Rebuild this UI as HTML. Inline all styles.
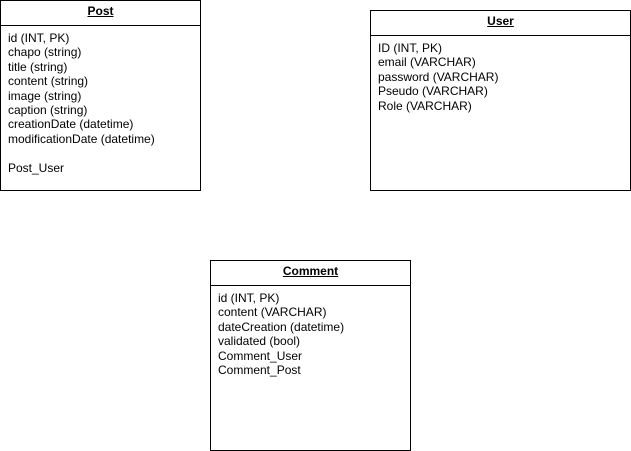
<!DOCTYPE html>
<html><head><style>
body{margin:0;width:631px;height:451px;background:#fff;position:relative;font-family:"Liberation Sans",Arial,sans-serif;font-size:12px;color:#000;overflow:hidden}
.b{position:absolute;border:1px solid #000;box-sizing:border-box}
.h{position:absolute;left:0;right:0;top:0;height:24px;border-bottom:1px solid #000;text-align:center;font-weight:bold;text-decoration:underline;line-height:20px}
.t{position:absolute;left:7px;top:30px;line-height:14.4px;white-space:pre}
</style></head><body>
<div class="b" style="left:0;top:0;width:201px;height:191px"><div class="h">Post</div><div class="t">id (INT, PK)
chapo (string)
title (string)
content (string)
image (string)
caption (string)
creationDate (datetime)
modificationDate (datetime)

Post_User</div></div>
<div class="b" style="left:370px;top:10px;width:261px;height:181px"><div class="h">User</div><div class="t">ID (INT, PK)
email (VARCHAR)
password (VARCHAR)
Pseudo (VARCHAR)
Role (VARCHAR)</div></div>
<div class="b" style="left:210px;top:260px;width:201px;height:191px"><div class="h">Comment</div><div class="t">id (INT, PK)
content (VARCHAR)
dateCreation (datetime)
validated (bool)
Comment_User
Comment_Post</div></div>
</body></html>
